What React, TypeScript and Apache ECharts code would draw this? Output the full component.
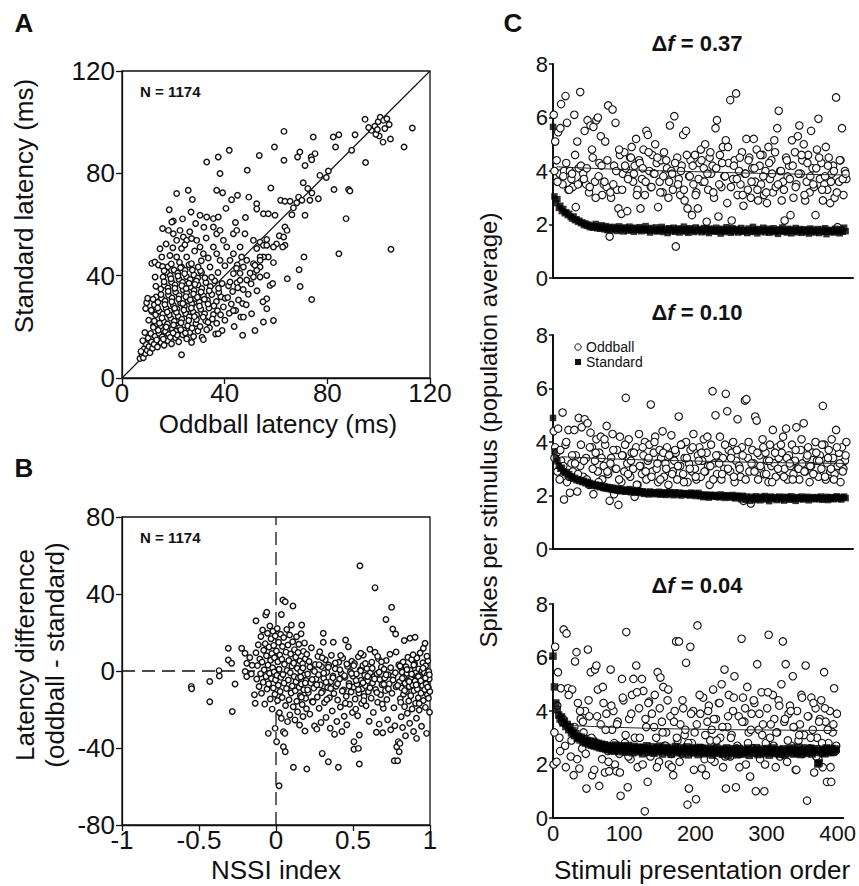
import React, { useEffect, useRef } from "react";
import * as echarts from "echarts";

const FONT = '"Liberation Sans", Arial, Helvetica, sans-serif';
const INK = "#111111";

// ---------------- Panel A : oddball latency (x) vs standard latency (y), ms ----------------
const aTail: number[][] = [
  [7, 7.6], [7.8, 9.1], [8.3, 7.9], [8.6, 11.4], [9.1, 9.6], [9.4, 13.2], [9.8, 10.8], [10.2, 15.6],
  [10.5, 12.3], [10.9, 9.9], [11.2, 17.4], [11.5, 14.1], [11.9, 11.6], [12.3, 20.3], [9.2, 27.2], [9.6, 29.4],
  [10, 31.2], [8.9, 17.8], [10.4, 22.6], [11.7, 25.9], [12.6, 28.6], [13.3, 31.7], [8.1, 14.6], [7.4, 10.4],
];
const aCore: number[][] = [
  [12.5, 13.2], [13.8, 12.1], [15.2, 13.9], [16.4, 12.8], [17.9, 14.6], [19.3, 13.4], [20.8, 15.7], [22.1, 14.2],
  [23.6, 16.9], [25.2, 15.3], [26.4, 17.8], [27.9, 16.2], [29.6, 18.4], [31.2, 15.9],
  [12.9, 16.3], [14.4, 17.5], [15.7, 16.1], [16.9, 18.2], [18.2, 17.0], [19.6, 19.1], [21.0, 18.3], [22.5, 19.8],
  [24.1, 18.7], [25.6, 20.4], [27.3, 19.5], [28.8, 21.3], [30.4, 20.1], [32.6, 22.4], [34.1, 19.6],
  [12.2, 19.8], [13.6, 21.2], [15.0, 20.3], [16.3, 22.0], [17.7, 21.1], [19.0, 23.4], [20.4, 22.2], [21.9, 24.1],
  [23.3, 23.0], [24.8, 25.2], [26.2, 23.9], [27.7, 25.8], [29.1, 24.6], [30.7, 26.9], [32.2, 25.1], [33.9, 27.4],
  [35.6, 24.8], [37.2, 26.3],
  [13.1, 24.7], [14.5, 26.1], [15.9, 25.0], [17.2, 27.3], [18.6, 26.2], [20.0, 28.4], [21.4, 27.1], [22.8, 29.3],
  [24.3, 28.0], [25.7, 30.2], [27.2, 29.0], [28.6, 31.1], [30.1, 29.7], [31.7, 32.0], [33.3, 30.4], [35.0, 32.6],
  [36.8, 29.9], [38.5, 31.8],
  [14.0, 29.6], [15.4, 31.2], [16.8, 30.1], [18.1, 32.4], [19.5, 31.3], [20.9, 33.6], [22.3, 32.2], [23.8, 34.5],
  [25.2, 33.3], [26.7, 35.6], [28.1, 34.2], [29.6, 36.4], [31.1, 35.0], [32.7, 37.3], [34.4, 35.8], [36.1, 38.0],
  [15.1, 34.8], [16.5, 36.3], [17.9, 35.2], [19.3, 37.5], [20.7, 36.4], [22.2, 38.6], [23.6, 37.4], [25.1, 39.7],
  [26.6, 38.5], [28.0, 40.3], [29.5, 39.1], [31.0, 41.2],
  [16.0, 39.5], [17.4, 41.3], [18.8, 40.1], [20.3, 42.2], [21.7, 41.0], [23.2, 43.4], [24.6, 42.1], [26.1, 44.3],
  [33.5, 21.8], [35.2, 23.1], [36.9, 21.4], [38.4, 24.7], [40.1, 22.6], [41.8, 25.3], [39.5, 27.8], [42.6, 28.9],
  [44.3, 26.4], [37.7, 33.5], [40.2, 31.2], [43.1, 33.8], [45.4, 30.5], [41.5, 36.1], [44.8, 37.2], [47.2, 34.6],
  [46.0, 40.9], [48.6, 38.3], [43.7, 20.1], [46.3, 23.8], [39.0, 18.6], [36.5, 17.2], [33.0, 18.9],
];
const aCoreFill: number[][] = [
  [13.5, 14.9], [16.1, 15.2], [18.8, 15.9], [21.5, 16.8], [24.7, 17.6], [27.1, 13.9], [14.1, 18.7], [17.2, 19.9],
  [20.1, 20.7], [23.0, 21.6], [26.0, 22.5], [29.0, 22.9], [12.6, 22.3], [15.6, 23.5], [18.4, 24.6], [21.2, 25.7],
  [24.1, 26.6], [27.0, 27.4], [30.2, 28.1], [33.5, 28.9], [13.9, 27.4], [16.7, 28.7], [19.4, 29.8], [22.1, 30.9],
  [24.9, 31.8], [27.9, 32.8], [30.8, 33.6], [34.0, 34.1], [15.2, 32.6], [18.0, 33.9], [20.6, 35.1], [23.3, 36.1],
  [26.1, 37.0], [29.0, 37.9], [32.3, 39.2], [16.4, 37.6], [19.1, 38.8], [21.8, 39.9], [24.4, 40.8], [27.4, 42.2],
  [17.9, 43.5], [22.4, 45.2], [14.6, 21.4], [17.6, 25.8], [20.5, 27.3], [23.7, 29.1], [26.6, 30.6], [29.4, 31.6],
  [32.1, 30.8], [25.0, 35.0], [28.4, 36.6], [19.9, 17.6], [22.9, 18.9], [28.2, 24.0], [31.6, 23.8], [35.8, 28.2],
  [37.6, 35.1], [34.9, 39.4], [30.6, 41.9], [13.2, 35.9], [12.1, 30.8], [11.4, 26.5],
];
const aUpperLeft: number[][] = [
  [11.6, 44.8], [12.8, 45.3], [14.2, 44.2], [15.8, 43.6], [12.9, 39.5], [14.8, 50.5], [15.5, 47.3], [18.1, 57.7],
  [15.8, 58.4], [20, 56.4], [21.3, 53.8], [22.6, 57.7], [23.9, 55.1], [25.2, 53.8], [27.1, 54.5], [29.1, 53.8],
  [30.4, 51.2], [25.2, 47.3], [27.1, 44.7], [21.3, 47.3], [18.7, 47.9], [23.2, 50.6], [31.7, 48.6], [29.7, 43.4],
  [35.6, 51.2], [36.9, 56.4], [35.6, 59], [38.2, 57.7], [39.5, 53.8], [40.8, 51.2], [43.4, 56.4], [44.7, 57.7],
  [46, 51.2], [47.9, 56.4], [34.3, 43.4], [38.2, 46], [36.9, 48.6], [42.1, 46], [43.4, 48.6], [46.6, 47.3],
  [48.6, 46], [17.2, 52.4], [19.8, 50.9], [24.5, 52.1], [28.3, 49.6], [32.8, 54.7], [33.6, 46.9], [26.4, 57.2],
  [19.2, 44.6], [22.8, 43.1], [16.4, 41.9], [30.9, 45.8], [40.1, 43.9], [37.4, 41.2], [44.9, 44.2],
];
const aMiddle: number[][] = [
  [51.2, 53.8], [53.8, 53.1], [55.1, 51.9], [56.4, 51.9], [52.5, 50.6], [57, 47.3], [55.1, 47.3], [53.8, 43.4],
  [51.2, 44.7], [43.4, 40.8], [46, 38.2], [51.2, 40.8], [47.3, 43.4], [42.1, 37.5], [39, 36.9], [53.8, 47.3],
  [53.8, 46], [52.5, 42.1], [53.8, 39.5], [51.2, 39.5], [49.9, 41], [51.8, 44.1], [59, 45.1], [56.4, 40.1],
  [57.7, 36.2], [58.7, 36.9], [56.4, 31], [56.4, 27.1], [59, 22.5], [55.1, 21.9], [51.8, 18.6], [47, 16.7],
  [50.5, 25.1], [47.3, 23.8], [47, 29.1], [43.4, 26.4], [49.2, 32.7], [52.6, 34.1], [45.1, 35.3], [48.4, 28.6],
  [41.2, 31.5], [54.9, 29.8], [50.3, 36.8], [44.6, 42.9], [60.2, 52.4], [61.3, 55.6], [23.2, 9.1], [31.7, 15],
  [37.5, 17.3],
];
const aUpper: number[][] = [
  [25.8, 73.4], [21.3, 72.1], [27.4, 69.8], [18.4, 65.8], [20, 61.4], [19.4, 61], [30.4, 63.6], [33, 62.9],
  [35.6, 62.3], [37.5, 62.9], [26.9, 64.9], [36.9, 73.4], [39.2, 72.4], [45, 71.4], [42.7, 69.7], [49.4, 70.7],
  [52.5, 68.1], [52.5, 66.1], [55.1, 64.2], [57, 64.2], [59.6, 63.6], [58, 74.3], [38.2, 79.9], [33, 84.4],
  [37.5, 86.4], [41.8, 89], [48.8, 81.2], [53.5, 87], [59.4, 90.3], [63.1, 96.4], [63.1, 85.1], [40.5, 66.3],
  [44.2, 60.8], [48.1, 62.7], [28.7, 60.4], [23.6, 62.2], [31.9, 58.9],
];
const aRight: number[][] = [
  [61.8, 69.5], [63.5, 69.1], [65.5, 69.1], [68.1, 68.5], [66.8, 66.5], [68.8, 70.7], [70.1, 69.5], [71.3, 63.6],
  [73.2, 69.5], [76.5, 70.1], [74, 72.3], [63.5, 59], [64.3, 57.7], [63, 55.1], [63.5, 51.9], [62.6, 51.2],
  [59, 51.2], [56.4, 54.1], [64.4, 38.8], [69, 42.3], [69.4, 35.8], [73.9, 30.7], [70.9, 47.3], [69.3, 88.3],
  [68.4, 86.4], [71.3, 83.1], [75.2, 87.7], [73.7, 86.4], [73.9, 85.3], [74.5, 94.2], [77.1, 79.2], [80.4, 80.9],
  [82.6, 73.7], [88.3, 73.7], [88.8, 73.1], [87.3, 62.3], [84.5, 48.6], [82.3, 94.2], [84.5, 95.1], [83.2, 90.3],
  [89.5, 89], [90.8, 95.1], [94.7, 101.1], [94.9, 84.2], [104.8, 50.3], [109.9, 90.3], [113.1, 97.7], [97.2, 96.8],
  [98.5, 98.4], [99.8, 100.2], [100.6, 101.9], [101.9, 100.7], [103.2, 101.3], [104.1, 99.1], [102.4, 97.5],
  [100.2, 94.6], [101.7, 92.2], [104.6, 93.4], [98.9, 95.3], [99.5, 97.1], [96.1, 97.9], [70.6, 76.3],
  [72.4, 74.1], [79.6, 78.4], [66.2, 63.8],
];
const aIdentity: number[][] = [[0, 0], [120, 120]];

// ---------------- Panel B : NSSI index (x) vs latency difference (y) ----------------
const bLeft: number[][] = [
  [-0.55, -8], [-0.548, -9.2], [-0.43, -5.5], [-0.43, -16], [-0.37, 0.2], [-0.368, -2.6], [-0.31, 11.8],
  [-0.31, 5.7], [-0.288, 4], [-0.284, -21], [-0.266, -6.8], [-0.223, 11.8], [-0.201, 9.2], [-0.19, 4],
  [-0.2, -0.3], [-0.19, -2.9], [-0.17, 7], [-0.16, -1.5], [-0.13, 26.1], [-0.155, 3],
];
const bNearZero: number[][] = [
  [-0.14, -12.3], [-0.135, -16.8], [-0.13, 9.5], [-0.125, -4.2], [-0.12, 2.8], [-0.115, 13.6], [-0.11, -8.1],
  [-0.105, 6.2], [-0.1, -1.4], [-0.098, 17.9], [-0.094, -11.6], [-0.09, 4.7], [-0.087, 21.3], [-0.083, -5.9],
  [-0.08, 10.8], [-0.077, 0.6], [-0.073, -17.2], [-0.07, 14.2], [-0.067, 29.1], [-0.065, -2.8], [-0.062, 7.9],
  [-0.06, 30.5], [-0.058, -9.4], [-0.055, 19.6], [-0.052, 3.1], [-0.05, -32.4], [-0.048, -6.7], [-0.045, 12.5],
  [-0.042, -1.2], [-0.04, 23.4], [-0.037, -14.5], [-0.035, 5.6], [-0.032, 16.8], [-0.03, -3.9], [-0.027, 9.1],
  [-0.025, -19.8], [-0.022, 1.7], [-0.02, 20.6], [-0.017, -8.8], [-0.015, 13.3], [-0.012, -0.5], [-0.01, 6.9],
  [-0.007, -12.1], [-0.005, 18.2], [-0.003, -4.6], [-0.006, -29.8],
  [0.004, -36.7], [0.003, 10.4], [0.006, -2.2], [0.008, 22.1], [0.01, -15.3], [0.012, 4.8], [0.015, -7.4],
  [0.017, 14.9], [0.02, -59.6], [0.02, 0.9], [0.022, -21.7], [0.025, 8.3], [0.027, -10.6], [0.03, 19.1],
  [0.032, -3.3], [0.035, 29.4], [0.035, -24.6], [0.038, 6.1], [0.04, -13.8], [0.042, 12.7], [0.045, 36.9],
  [0.045, -1.8], [0.048, -31.5], [0.048, -39.3], [0.05, 17.4], [0.052, -6.3], [0.055, 3.5], [0.058, -32.4],
  [0.06, 36], [0.06, -41.9], [0.062, -17.9], [0.065, 9.8], [0.068, -9.1], [0.07, 21.6], [0.072, 0.3],
  [0.075, -26.3], [0.078, 13.5], [0.08, -4.7], [0.083, 5.4], [0.085, -14.9], [0.088, 18.7], [0.09, -22.8],
  [0.093, -0.9], [0.095, 8.8], [0.098, -11.4], [0.1, 23.9], [0.103, 2.6], [0.105, -7.8], [0.108, 15.2],
  [0.11, 33.8], [0.112, -18.6], [0.113, -50], [0.115, 4.1], [0.118, -2.9], [0.12, 11.1], [0.123, -25.4],
  [0.125, -10.3], [0.128, 7.2], [0.13, -5.6], [0.133, 17.8], [0.135, -15.7], [0.138, 1.4], [0.14, -21.2],
  [0.143, 9.6], [0.145, -3.5], [0.148, 13.9], [0.15, -8.4], [0.153, -28.1], [0.155, 5.2], [0.158, -12.9],
  [0.16, -0.3], [0.163, 19.4], [0.165, -6.8], [0.167, 23.9], [0.17, -17.4], [0.173, 3.8], [0.175, -23.6],
  [0.178, 10.2], [0.18, -9.7], [0.183, -2.1], [0.185, 14.6], [0.188, -31.2], [0.19, 6.4], [0.193, -14.2],
  [0.195, -4.9], [0.198, -19.6], [0.2, -50.9], [0.2, 8.7],
];
const bMid: number[][] = [
  [0.205, -1.6], [0.21, -11.2], [0.215, 4.9], [0.22, -22.4], [0.225, -6.3], [0.23, 12.1], [0.235, -15.8],
  [0.24, 0.8], [0.245, -8.9], [0.25, -28.6], [0.255, 3.4], [0.26, -4.1], [0.265, -30.2], [0.268, -13.5],
  [0.272, 7.6], [0.276, -1.9], [0.28, -19.3], [0.284, 10], [0.288, -7.2], [0.292, -26.7], [0.296, 2.3],
  [0.3, -42.8], [0.302, -10.5], [0.307, 19.6], [0.307, 14.9], [0.31, -3.8], [0.315, -16.4], [0.32, 5.8],
  [0.325, -24.1], [0.33, -0.7], [0.335, -8.6], [0.34, -47.1], [0.342, 3.1], [0.347, -13.9], [0.352, -29.7],
  [0.356, -5.4], [0.36, 8.2], [0.365, -20.8], [0.37, -2.6], [0.372, 14.9], [0.376, -11.7], [0.38, -32.8],
  [0.385, 1.2], [0.39, -7.9], [0.395, -26.2], [0.4, -15.1], [0.405, -50], [0.408, 4.5], [0.413, -4.2],
  [0.418, -18.7], [0.423, -1], [0.428, -31.4], [0.433, 6.7], [0.438, -9.8], [0.443, -23.5], [0.448, -3.2],
  [0.452, 16.1], [0.456, -13.1], [0.46, -27.9], [0.465, 2.4], [0.47, 12.6], [0.474, -6.5], [0.478, -17.3],
  [0.483, -0.4], [0.488, -10.9], [0.492, 5.1], [0.496, -21.6],
  [0.5, -2.7], [0.504, -8.3], [0.506, -40.7], [0.506, -36.7], [0.51, 3.9], [0.514, -14.6], [0.518, -19.8],
  [0.522, -1.5], [0.526, -6.9], [0.53, -23.2], [0.535, 7.4], [0.535, -40.2], [0.538, -11.4], [0.541, -48.3],
  [0.541, -33.2], [0.545, 54.7], [0.548, 0.6], [0.552, -4.8], [0.556, -16.9], [0.56, -9.2], [0.564, 2.9],
  [0.567, 8.3], [0.572, -13.2], [0.576, -2.2], [0.58, -7.6], [0.585, -18.1], [0.59, 1.3], [0.595, -5.1],
  [0.6, -10.8], [0.605, -26.1], [0.61, 11.3], [0.613, -0.9], [0.618, -14.1], [0.622, 4.6], [0.627, -6.2],
  [0.632, -21.5], [0.637, -2.9], [0.643, 43.3], [0.643, 9.7], [0.647, -9.6], [0.652, -31.8], [0.656, -1.4],
  [0.66, -16.2], [0.665, 6.3], [0.67, -27.6], [0.674, -4.4], [0.679, -12.3], [0.684, 2], [0.688, -7.1],
  [0.693, -32.1], [0.697, -19.4], [0.702, 0.9], [0.706, -3.6], [0.711, -10.2], [0.714, 26.8], [0.716, 5.5],
  [0.72, -14.8], [0.725, -25.3], [0.73, -1.9], [0.735, -6.7], [0.74, 8.7], [0.745, -30.5], [0.751, 33.1],
  [0.753, -11.6], [0.758, 21.8], [0.762, -2.5], [0.766, -19.1], [0.768, -46.6], [0.772, -28.4], [0.777, 19.2],
  [0.78, -8.2], [0.784, -39.3], [0.79, -46.6], [0.794, -36.7], [0.797, 3.2],
];
const bRight: number[][] = [
  [0.8, -41.9], [0.802, -5.6], [0.805, -37.6], [0.807, -14.4], [0.81, 1.8], [0.813, -23.8], [0.816, -8.9],
  [0.819, -0.6], [0.822, -29.4], [0.825, 4.7], [0.828, -12.1], [0.831, -3.3], [0.833, 15.8], [0.835, -18.5],
  [0.838, -6.4], [0.841, -33.6], [0.844, 2.2], [0.847, -10.7], [0.85, -1.2], [0.853, -21.9], [0.856, 7.1],
  [0.859, -4.9], [0.862, -15.6], [0.865, -8.1], [0.868, -27.2], [0.87, 17], [0.872, 0.4], [0.875, -12.8],
  [0.878, -3.9], [0.881, 5.9], [0.884, -19.7], [0.887, -7.3], [0.89, -1.8], [0.893, -31.4], [0.896, -10.2],
  [0.9, 3.6], [0.903, 17.5], [0.903, -5.2], [0.906, -16.8], [0.909, -0.9], [0.912, -24.5], [0.913, -35],
  [0.915, 6.8], [0.918, -9.4], [0.921, -2.6], [0.924, -13.9], [0.927, 1.1], [0.93, -20.3], [0.933, -6.1],
  [0.936, 9.3], [0.939, -3.2], [0.942, -11.5], [0.945, -28.7], [0.948, 0.2], [0.951, -7.7], [0.954, 4.3],
  [0.957, 11.8], [0.957, -15.3], [0.96, -4.4], [0.963, -1], [0.966, -9.6], [0.968, 14.4], [0.97, -18.9],
  [0.972, 2.7], [0.975, -6.8], [0.978, -32.4], [0.98, -2.1], [0.983, -12.4], [0.986, 5.3], [0.989, -8.5],
  [0.992, -0.3], [0.995, -4.1], [0.997, -21.4], [0.999, -10.6],
];
const bBand: number[][] = [
  [0.16, -3.1], [0.175, 1.6], [0.19, -6.2], [0.205, -9.8], [0.22, 2.1], [0.235, -4.4], [0.25, -0.2],
  [0.265, -7.1], [0.28, 3.3], [0.295, -11.3], [0.31, -1.1], [0.325, -5.8], [0.34, 1.9], [0.355, -9.1],
  [0.37, -3.5], [0.385, 4.2], [0.4, -6.6], [0.415, 0.7], [0.43, -10.4], [0.445, -2.4], [0.46, 3.6],
  [0.475, -7.8], [0.49, -1.3], [0.505, 2.8], [0.52, -4.9], [0.535, -9.6], [0.55, 0.1], [0.565, -6.1],
  [0.58, 3.9], [0.595, -2.8], [0.61, -8.7], [0.625, 1.4], [0.64, -4.1], [0.655, -11.2], [0.67, -0.6],
  [0.685, 4.8], [0.7, -6.9], [0.715, -2], [0.73, -9.3], [0.745, 1.7], [0.76, -4.7], [0.775, -0.9],
  [0.79, -7.5], [0.805, 2.6], [0.82, -3.8], [0.835, -10.1], [0.85, 0.8], [0.865, -5.5], [0.88, -1.6],
  [0.895, 3.1], [0.91, -7.2], [0.925, -2.9], [0.94, -5.1], [0.955, 1.5], [0.97, -3.6], [0.985, -8.3],
  [0.996, -1.9], [0.165, -13.6], [0.24, -16.1], [0.33, -14.8], [0.45, -16.7], [0.57, -15.4], [0.69, -17.2],
  [0.81, -16.3], [0.93, -16.9], [0.99, -14.2], [0.3, 6.9], [0.42, 8.1], [0.55, 9.2], [0.66, 7.6],
  [0.78, 9.9], [0.89, 8.4], [0.98, 7.7],
];
const bZeroVertical: number[][] = [[0, -80], [0, 80]];
const bZeroHorizontal: number[][] = [[-1, 0], [0, 0]];

// ---------------- Panel C : spikes per stimulus vs presentation order ----------------
const cTitles = ["0.37", "0.10", "0.04"];
// oddball responses at odd presentation indices (1, 3, 5 ... 399)
const oddTop = [
  6.1, 5.1, 4.4, 5.45, 3.9, 6.5, 3.5, 4.0, 6.8, 5.8,
  3.3, 4.0, 3.7, 3.4, 6.1, 2.65, 5.1, 4.1, 6.95, 3.6,
  3.9, 5.5, 3.5, 5.9, 3.2, 5.7, 4.8, 5.65, 3.6, 5.9,
  6.0, 4.3, 5.3, 3.1, 3.5, 5.1, 3.4, 6.45, 1.55, 3.0,
  6.3, 4.2, 5.8, 3.3, 2.6, 4.6, 2.4, 3.9, 4.7, 4.1,
  2.5, 3.8, 4.5, 4.9, 3.6, 4.2, 5.2, 3.3, 4.4, 2.6,
  3.7, 4.8, 3.1, 5.5, 5.35, 4.0, 3.4, 4.6, 3.9, 5.0,
  4.3, 2.65, 3.6, 4.4, 3.2, 4.7, 3.9, 4.1, 3.0, 5.7,
  4.0, 3.3, 6.05, 1.18, 4.5, 3.7, 3.1, 4.2, 5.35, 2.9,
  5.5, 2.6, 3.8, 4.4, 2.35, 3.5, 4.6, 3.2, 2.6, 4.3,
  4.8, 3.6, 4.1, 5.0, 2.1, 3.3, 4.5, 3.9, 4.2, 3.0,
  5.6, 5.9, 2.3, 4.6, 3.4, 4.9, 3.8, 5.15, 2.8, 4.3,
  6.65, 2.15, 3.7, 4.4, 6.9, 3.1, 4.0, 3.5, 4.7, 2.7,
  3.9, 5.2, 3.3, 4.5, 3.0, 4.1, 5.2, 3.6, 4.8, 2.9,
  4.2, 3.5, 4.6, 3.1, 4.0, 2.8, 4.9, 3.7, 4.4, 3.2,
  5.15, 3.4, 5.6, 6.25, 4.0, 2.9, 3.6, 2.15, 4.5, 3.8,
  4.2, 2.35, 5.15, 3.0, 4.7, 3.5, 5.3, 5.7, 3.9, 4.4,
  5.0, 2.9, 3.6, 4.6, 3.2, 5.5, 4.1, 3.4, 2.35, 4.8,
  5.95, 3.7, 4.3, 2.9, 3.5, 4.9, 3.3, 4.5, 2.8, 3.9,
  4.2, 3.0, 6.75, 1.9, 3.6, 4.4, 5.6, 3.1, 4.0, 3.7,
];
// further oddball responses at indices 2, 6, 10 ... 398
const oddTopB = [
  4.0, 3.6, 5.6, 3.8, 4.3, 3.3, 3.9, 4.6, 3.5, 4.2,
  3.7, 4.1, 3.4, 4.5, 3.0, 3.8, 4.2, 3.6, 4.4, 3.2,
  3.5, 4.0, 4.8, 3.3, 4.2, 3.7, 4.5, 3.9, 3.1, 4.3,
  4.1, 3.6, 4.7, 3.4, 3.9, 4.5, 3.2, 3.8, 4.4, 3.6,
  3.9, 4.3, 3.5, 4.0, 3.3, 4.6, 3.8, 4.2, 3.1, 3.7,
  4.4, 3.6, 3.9, 4.7, 3.2, 4.1, 3.5, 4.3, 3.8, 4.9,
  3.4, 4.2, 3.7, 4.5, 3.1, 3.9, 4.4, 3.6, 4.1, 3.3,
  4.6, 3.8, 3.2, 4.3, 3.9, 4.7, 3.5, 4.0, 3.3, 4.4,
  3.7, 4.2, 3.4, 3.9, 4.6, 3.1, 4.3, 3.8, 3.5, 4.1,
  4.5, 3.3, 3.8, 4.2, 3.6, 4.0, 3.2, 4.4, 3.7, 3.9,
];
const oddMid = [
  4.4, 3.8, 3.6, 4.5, 2.6, 3.3, 5.1, 1.85, 3.9, 2.5,
  4.45, 2.1, 3.2, 2.9, 4.45, 3.5, 2.15, 4.9, 3.1, 4.55,
  2.7, 4.85, 3.4, 4.7, 2.4, 4.35, 3.8, 2.05, 3.3, 4.1,
  2.9, 3.6, 4.2, 2.6, 3.1, 3.9, 4.6, 2.8, 1.8, 3.4,
  4.3, 2.05, 3.0, 3.7, 1.65, 4.2, 2.5, 3.5, 2.9, 5.65,
  3.2, 4.1, 2.7, 3.6, 3.0, 1.95, 3.8, 2.4, 4.3, 3.1,
  2.8, 3.5, 4.0, 2.6, 3.3, 3.9, 5.4, 2.9, 3.6, 4.2,
  3.0, 2.5, 3.7, 3.4, 4.4, 2.7, 3.2, 3.8, 2.4, 3.5,
  4.25, 2.9, 3.3, 3.6, 2.6, 4.95, 3.1, 3.9, 2.8, 3.4,
  4.0, 2.5, 3.2, 3.7, 2.9, 4.3, 3.0, 2.6, 3.5, 3.8,
  2.7, 3.3, 4.1, 2.9, 3.6, 3.1, 2.4, 3.9, 5.9, 3.2,
  5.0, 2.8, 3.5, 4.2, 2.6, 3.4, 3.0, 5.8, 5.15, 3.7,
  2.9, 3.6, 4.0, 2.5, 3.3, 4.85, 3.1, 2.7, 3.8, 1.8,
  5.55, 5.6, 3.4, 2.9, 1.7, 3.7, 3.2, 4.95, 4.8, 2.6,
  3.5, 3.0, 4.1, 2.8, 3.6, 3.3, 2.5, 3.9, 3.1, 4.45,
  3.2, 2.7, 3.8, 3.4, 2.9, 3.6, 4.2, 3.0, 4.5, 2.6,
  3.5, 3.1, 3.9, 2.8, 3.3, 4.55, 3.0, 2.6, 3.7, 3.2,
  4.7, 2.9, 3.4, 3.8, 2.5, 3.1, 3.6, 2.8, 4.0, 3.3,
  2.7, 3.5, 3.0, 5.35, 3.9, 2.6, 3.2, 3.7, 2.9, 4.1,
  3.4, 2.8, 4.45, 3.1, 3.6, 2.5, 3.8, 3.0, 3.3, 4.0,
];
const oddMidB = [
  3.4, 2.9, 3.7, 3.1, 4.0, 2.7, 3.5, 3.2, 2.8, 3.9,
  3.3, 2.6, 3.8, 3.0, 3.6, 2.5, 3.4, 4.1, 2.9, 3.2,
  3.7, 3.0, 2.6, 3.5, 3.9, 2.8, 3.3, 3.6, 2.4, 3.1,
  3.8, 2.9, 3.4, 2.7, 4.0, 3.2, 2.6, 3.6, 3.0, 3.5,
  2.8, 3.7, 3.1, 3.9, 2.5, 3.4, 3.0, 3.8, 2.7, 3.3,
  3.6, 2.9, 4.2, 3.1, 2.6, 3.5, 3.2, 2.8, 3.9, 3.0,
  3.4, 2.7, 3.7, 3.0, 3.5, 2.6, 4.0, 3.2, 2.9, 3.6,
  3.1, 3.8, 2.8, 3.3, 2.5, 3.6, 3.0, 3.9, 2.7, 3.4,
  3.2, 2.6, 3.7, 3.0, 4.1, 2.9, 3.5, 3.1, 2.8, 3.6,
  3.3, 3.9, 2.7, 3.4, 3.0, 2.6, 3.8, 3.2, 2.9, 3.5,
];
const oddBot = [
  2.0, 6.4, 2.1, 5.45, 3.0, 4.85, 3.6, 7.05, 2.7, 6.9,
  4.85, 3.4, 2.3, 4.8, 1.6, 5.85, 6.2, 4.3, 1.85, 3.7,
  2.6, 3.2, 4.0, 1.1, 6.3, 3.8, 5.45, 1.6, 2.9, 5.55,
  5.7, 4.8, 1.2, 3.5, 2.2, 4.3, 1.7, 3.9, 2.5, 1.75,
  5.55, 3.3, 4.0, 2.0, 1.75, 3.6, 2.4, 0.83, 5.2, 4.4,
  2.8, 6.95, 1.15, 3.7, 2.2, 4.6, 5.2, 3.0, 5.7, 1.9,
  4.1, 2.6, 5.2, 4.75, 0.25, 3.4, 1.35, 4.35, 2.3, 3.9,
  2.5, 4.6, 3.0, 5.45, 2.1, 5.25, 3.6, 4.9, 2.7, 3.2,
  4.4, 2.0, 3.8, 1.9, 1.6, 4.0, 6.6, 2.9, 6.6, 3.5,
  2.4, 4.1, 3.1, 5.8, 0.5, 1.1, 6.4, 2.8, 4.0, 3.2,
  0.7, 7.2, 2.6, 3.9, 1.85, 4.5, 2.2, 1.6, 3.6, 4.2,
  2.9, 3.3, 4.8, 2.1, 3.7, 2.5, 4.3, 3.0, 5.0, 1.9,
  5.55, 1.1, 3.4, 4.6, 2.3, 3.1, 4.0, 5.3, 1.15, 2.7,
  3.8, 2.4, 6.7, 4.5, 3.6, 2.0, 4.9, 3.2, 1.55, 3.9,
  2.6, 4.3, 1.0, 5.75, 3.3, 2.2, 4.7, 3.5, 1.0, 2.8,
  4.1, 6.85, 3.0, 2.5, 4.6, 3.7, 1.9, 3.2, 4.4, 2.3,
  5.0, 6.6, 3.6, 5.75, 2.1, 3.9, 4.2, 2.7, 5.3, 3.4,
  1.8, 4.0, 2.9, 3.5, 4.6, 2.4, 3.1, 5.7, 0.65, 3.8,
  2.6, 4.5, 3.3, 1.7, 4.1, 3.0, 2.2, 3.7, 4.4, 1.9,
  5.45, 3.6, 1.35, 2.8, 4.0, 1.35, 3.2, 4.85, 2.5, 3.9,
];
const oddBotB = [
  3.2, 4.2, 2.5, 3.7, 1.9, 4.6, 2.9, 3.4, 2.2, 4.0,
  3.6, 2.4, 4.4, 3.0, 1.8, 3.8, 2.7, 4.9, 3.3, 2.1,
  4.2, 2.8, 3.5, 1.7, 4.5, 3.1, 2.3, 3.9, 2.6, 4.7,
  3.0, 2.0, 3.7, 4.3, 2.5, 3.4, 1.9, 4.1, 3.2, 2.7,
  4.8, 2.4, 3.6, 3.0, 2.1, 4.4, 3.3, 2.8, 3.9, 1.8,
  3.5, 4.6, 2.6, 3.1, 4.0, 2.2, 3.7, 2.9, 4.3, 3.4,
  2.3, 3.8, 3.0, 4.5, 2.6, 1.9, 3.6, 4.1, 2.8, 3.3,
  4.4, 2.5, 3.9, 3.1, 2.0, 4.7, 3.5, 2.7, 3.2, 4.2,
  2.4, 3.7, 2.9, 4.0, 3.4, 1.8, 3.1, 4.5, 2.6, 3.8,
  3.0, 4.3, 2.3, 3.6, 2.8, 4.1, 3.3, 1.9, 3.5, 2.7,
];
// standard responses at even presentation indices (0, 2, 4 ... 398)
const stdTop = [
  5.65, 3.05, 2.80, 2.95, 2.62, 2.70, 2.50, 2.58, 2.42, 2.46,
  2.35, 2.40, 2.28, 2.22, 2.30, 2.16, 2.20, 2.10, 2.14, 2.05,
  2.08, 1.98, 2.04, 1.95, 2.00, 1.90, 1.96, 1.88, 1.93, 2.02,
  1.86, 1.92, 1.84, 1.97, 1.88, 1.82, 1.94, 1.79, 1.90, 1.85,
  1.78, 1.91, 1.83, 1.87, 1.76, 1.93, 1.81, 1.86, 1.74, 1.89,
  1.84, 1.77, 1.92, 1.80, 1.86, 1.73, 1.88, 1.82, 1.79, 1.90,
  1.75, 1.85, 1.81, 1.94, 1.77, 1.83, 1.70, 1.87, 1.80, 1.76,
  1.89, 1.74, 1.82, 1.78, 1.91, 1.72, 1.84, 1.79, 1.68, 1.86,
  1.81, 1.75, 1.88, 1.73, 1.80, 1.85, 1.70, 1.83, 1.77, 1.92,
  1.74, 1.82, 1.69, 1.86, 1.78, 1.81, 1.72, 1.89, 1.76, 1.80,
  1.84, 1.71, 1.79, 1.87, 1.74, 1.82, 1.68, 1.85, 1.77, 1.80,
  1.73, 1.88, 1.75, 1.81, 1.66, 1.84, 1.78, 1.72, 1.90, 1.76,
  1.82, 1.69, 1.86, 1.74, 1.79, 1.83, 1.70, 1.77, 1.87, 1.73,
  1.80, 1.76, 1.68, 1.85, 1.78, 1.72, 1.91, 1.75, 1.81, 1.67,
  1.83, 1.74, 1.79, 1.88, 1.71, 1.77, 1.84, 1.69, 1.80, 1.75,
  1.86, 1.72, 1.78, 1.65, 1.82, 1.76, 1.89, 1.73, 1.79, 1.70,
  1.84, 1.77, 1.67, 1.81, 1.74, 1.87, 1.71, 1.78, 1.83, 1.69,
  1.76, 1.82, 1.72, 1.79, 1.66, 1.85, 1.74, 1.80, 1.70, 1.77,
  1.83, 1.68, 1.75, 1.81, 1.73, 1.86, 1.64, 1.78, 1.72, 1.80,
  1.76, 1.70, 1.84, 1.74, 1.79, 1.67, 1.82, 1.73, 1.88, 1.75,
];
const stdMid = [
  4.90, 3.65, 3.40, 3.28, 3.12, 3.00, 3.04, 2.90, 2.84, 2.88,
  2.76, 2.80, 2.68, 2.72, 2.62, 2.66, 2.57, 2.61, 2.54, 2.58,
  2.50, 2.55, 2.46, 2.51, 2.42, 2.47, 2.39, 2.44, 2.36, 2.41,
  2.34, 2.39, 2.31, 2.37, 2.28, 2.35, 2.26, 2.32, 2.24, 2.30,
  2.22, 2.29, 2.20, 2.26, 2.18, 2.25, 2.16, 2.23, 2.19, 2.14,
  2.21, 2.15, 2.24, 2.12, 2.19, 2.16, 2.10, 2.20, 2.13, 2.17,
  2.09, 2.16, 2.06, 2.13, 2.10, 2.04, 2.15, 2.08, 2.12, 2.05,
  2.11, 2.07, 2.14, 2.03, 2.10, 2.06, 2.12, 2.02, 2.09, 2.13,
  2.05, 2.10, 2.01, 2.12, 2.07, 2.04, 2.11, 2.00, 2.08, 2.06,
  2.09, 2.02, 2.06, 2.00, 2.11, 2.04, 2.08, 1.98, 2.05, 2.10,
  1.98, 2.02, 1.94, 2.04, 1.97, 2.01, 1.92, 2.03, 1.99, 1.96,
  2.02, 1.95, 2.00, 1.93, 2.04, 1.97, 1.99, 1.91, 2.01, 1.96,
  1.98, 1.92, 2.02, 1.95, 1.89, 2.00, 1.94, 1.97, 1.86, 1.99,
  1.93, 1.84, 1.96, 1.88, 1.80, 1.95, 1.90, 1.83, 1.97, 1.87,
  1.92, 1.82, 1.95, 1.89, 1.98, 1.85, 1.93, 1.79, 1.96, 1.90,
  1.87, 1.94, 1.83, 1.91, 1.96, 1.86, 1.92, 1.81, 1.95, 1.89,
  1.93, 1.84, 1.97, 1.88, 1.91, 1.80, 1.94, 1.87, 1.90, 1.96,
  1.85, 1.92, 1.89, 1.95, 1.82, 1.91, 1.88, 1.94, 1.86, 1.90,
  1.93, 1.87, 1.96, 1.84, 1.91, 1.89, 1.95, 1.83, 1.92, 1.88,
  1.94, 1.86, 1.91, 1.97, 1.88, 1.93, 1.85, 1.92, 1.96, 1.90,
];
const stdBot = [
  6.05, 4.90, 4.30, 4.05, 3.85, 3.70, 3.78, 3.55, 3.62, 3.42,
  3.50, 3.30, 3.38, 3.18, 3.26, 3.08, 3.15, 2.98, 3.05, 2.92,
  3.02, 2.85, 2.96, 2.80, 2.90, 2.76, 2.88, 2.72, 2.84, 2.69,
  2.82, 2.66, 2.79, 2.62, 2.76, 2.60, 2.74, 2.58, 2.71, 2.55,
  2.69, 2.52, 2.67, 2.50, 2.73, 2.56, 2.64, 2.48, 2.70, 2.53,
  2.66, 2.46, 2.62, 2.71, 2.50, 2.59, 2.44, 2.68, 2.55, 2.61,
  2.47, 2.65, 2.52, 2.40, 2.63, 2.57, 2.70, 2.45, 2.58, 2.50,
  2.66, 2.42, 2.55, 2.62, 2.48, 2.69, 2.53, 2.39, 2.60, 2.51,
  2.64, 2.46, 2.57, 2.38, 2.61, 2.52, 2.67, 2.44, 2.56, 2.49,
  2.63, 2.41, 2.58, 2.50, 2.66, 2.36, 2.55, 2.47, 2.62, 2.43,
  2.59, 2.51, 2.37, 2.64, 2.46, 2.56, 2.40, 2.61, 2.49, 2.53,
  2.45, 2.60, 2.35, 2.57, 2.48, 2.63, 2.42, 2.54, 2.50, 2.38,
  2.58, 2.44, 2.62, 2.33, 2.52, 2.47, 2.59, 2.41, 2.55, 2.36,
  2.50, 2.60, 2.43, 2.56, 2.39, 2.53, 2.46, 2.61, 2.34, 2.51,
  2.57, 2.42, 2.49, 2.63, 2.37, 2.54, 2.45, 2.58, 2.40, 2.52,
  2.47, 2.60, 2.35, 2.55, 2.44, 2.62, 2.41, 2.50, 2.56, 2.38,
  2.53, 2.46, 2.59, 2.36, 2.51, 2.43, 2.57, 2.48, 2.62, 2.39,
  2.55, 2.42, 2.50, 2.64, 2.37, 2.53, 2.46, 2.58, 2.41, 2.56,
  2.48, 2.61, 2.39, 2.54, 2.45, 2.59, 2.02, 2.06, 2.51, 2.43,
  2.57, 2.40, 2.62, 2.48, 2.55, 2.44, 2.60, 2.46, 2.53, 2.58,
];
// thin fitted curves through the oddball responses
const fitTop: number[][] = [[5, 4.16], [100, 4.05], [200, 3.97], [300, 3.9], [400, 3.85]];
const fitMid: number[][] = [[12, 3.45], [100, 3.35], [173, 3.3], [300, 3.23], [400, 3.2]];
const fitBot: number[][] = [[23, 3.46], [100, 3.38], [200, 3.32], [300, 3.29], [400, 3.27]];

// ---------------- layout ----------------
const GRID_A = { left: 122, top: 71, width: 308, height: 307 };
const GRID_B = { left: 122, top: 517, width: 308, height: 308 };
const GRID_C = [
  { left: 553, top: 64, width: 300, height: 214 },
  { left: 553, top: 335, width: 300, height: 214 },
  { left: 553, top: 604, width: 300, height: 214 },
];
const STD_SIZE = [6.5, 6.5, 7.5];

function boxAxis(gridIndex: number, min: number, max: number, interval: number, isY: boolean) {
  return {
    type: "value",
    gridIndex,
    min,
    max,
    interval,
    axisLine: { show: true, onZero: false, lineStyle: { color: INK, width: 1.3 } },
    axisTick: { show: true, length: 6, lineStyle: { color: INK, width: 1.3 } },
    axisLabel: { fontSize: 26, color: INK, fontFamily: FONT, margin: isY ? 7 : 2 },
    splitLine: { show: false },
  };
}

function cXAxis(gridIndex: number, labels: boolean) {
  return {
    type: "value",
    gridIndex,
    min: 0,
    max: 408,
    interval: 100,
    axisLine: { show: true, onZero: false, lineStyle: { color: INK, width: 2 } },
    axisTick: { show: false },
    axisLabel: { show: labels, fontSize: 22, color: INK, fontFamily: FONT, margin: 4, showMaxLabel: false },
    splitLine: { show: false },
  };
}

function cYAxis(gridIndex: number) {
  return {
    type: "value",
    gridIndex,
    min: 0,
    max: 8,
    interval: 2,
    axisLine: { show: true, onZero: false, lineStyle: { color: INK, width: 2 } },
    axisTick: { show: true, length: 4, lineStyle: { color: INK, width: 1.5 } },
    axisLabel: { fontSize: 22, color: INK, fontFamily: FONT, margin: 5 },
    splitLine: { show: false },
  };
}

const hollow = (size: number, bw: number) => ({
  type: "scatter",
  symbol: "circle",
  symbolSize: size,
  itemStyle: { color: "#ffffff", borderColor: INK, borderWidth: bw, opacity: 1 },
  emphasis: { disabled: true },
  silent: true,
});

function txt(x: number, y: number, text: string, size: number, opts: any = {}) {
  return {
    type: "text",
    x,
    y,
    rotation: opts.rotation || 0,
    silent: true,
    style: {
      text,
      fill: INK,
      fontSize: size,
      fontFamily: FONT,
      fontWeight: opts.bold ? "bold" : "normal",
      align: opts.align || "center",
      verticalAlign: "middle",
      textAlign: opts.align || "center",
      textVerticalAlign: "middle",
    },
  };
}

function dfTitle(x: number, y: number, value: string) {
  return {
    type: "text",
    x,
    y,
    silent: true,
    style: {
      text: `{d|Δ}{f|f}{r| = ${value}}`,
      align: "center",
      verticalAlign: "middle",
      textAlign: "center",
      textVerticalAlign: "middle",
      rich: {
        d: { fontSize: 22, fontWeight: "bold", fontFamily: FONT, fill: INK, color: INK },
        f: { fontSize: 22, fontWeight: "bold", fontStyle: "italic", fontFamily: FONT, fill: INK, color: INK },
        r: { fontSize: 22, fontWeight: "bold", fontFamily: FONT, fill: INK, color: INK },
      },
    },
  };
}

function buildOption() {
  const aPoints = [...aTail, ...aCore, ...aCoreFill, ...aUpperLeft, ...aMiddle, ...aUpper, ...aRight];
  const bPoints = [...bLeft, ...bNearZero, ...bMid, ...bRight, ...bBand];
  const odds = [oddTop, oddMid, oddBot];
  const oddsB = [oddTopB, oddMidB, oddBotB];
  const stds = [stdTop, stdMid, stdBot];
  const fits = [fitTop, fitMid, fitBot];

  const series: any[] = [
    {
      type: "line",
      xAxisIndex: 0,
      yAxisIndex: 0,
      data: aIdentity,
      symbol: "none",
      lineStyle: { color: INK, width: 1.2 },
      silent: true,
      z: 1,
    },
    { ...hollow(5.5, 1.4), xAxisIndex: 0, yAxisIndex: 0, data: aPoints, z: 2 },
    {
      type: "line",
      xAxisIndex: 1,
      yAxisIndex: 1,
      data: bZeroVertical,
      symbol: "none",
      lineStyle: { color: INK, width: 1.3, type: [13, 7] },
      silent: true,
      z: 1,
    },
    {
      type: "line",
      xAxisIndex: 1,
      yAxisIndex: 1,
      data: bZeroHorizontal,
      symbol: "none",
      lineStyle: { color: INK, width: 1.3, type: [13, 7] },
      silent: true,
      z: 1,
    },
    { ...hollow(5.5, 1.4), xAxisIndex: 1, yAxisIndex: 1, data: bPoints, z: 2 },
  ];

  for (let k = 0; k < 3; k++) {
    const oddData = [
      ...odds[k].map((v, i) => [2 * i + 1, v]),
      ...oddsB[k].map((v, i) => [4 * i + 2, v]),
    ];
    series.push({
      ...hollow(7.5, 1.1),
      name: "Oddball",
      xAxisIndex: 2 + k,
      yAxisIndex: 2 + k,
      data: oddData,
      z: 2,
    });
    series.push({
      type: "scatter",
      name: "Standard",
      symbol: "rect",
      symbolSize: STD_SIZE[k],
      itemStyle: { color: "#000000" },
      emphasis: { disabled: true },
      silent: true,
      xAxisIndex: 2 + k,
      yAxisIndex: 2 + k,
      data: stds[k].map((v, i) => [2 * i, v]),
      z: 3,
    });
    series.push({
      type: "line",
      xAxisIndex: 2 + k,
      yAxisIndex: 2 + k,
      data: fits[k],
      smooth: true,
      symbol: "none",
      lineStyle: { color: "#222222", width: 1 },
      silent: true,
      z: 4,
    });
  }

  const graphic: any[] = [
    txt(24, 23, "A", 26, { bold: true }),
    txt(24, 468, "B", 26, { bold: true }),
    txt(513, 23, "C", 26, { bold: true }),
    txt(140, 91, "N = 1174", 15, { bold: true, align: "left" }),
    txt(140, 537, "N = 1174", 15, { bold: true, align: "left" }),
    txt(24, 206, "Standard latency (ms)", 26, { rotation: Math.PI / 2 }),
    txt(278, 424, "Oddball latency (ms)", 26),
    txt(25, 655, "Latency difference", 26, { rotation: Math.PI / 2 }),
    txt(55, 655, "(oddball - standard)", 26, { rotation: Math.PI / 2 }),
    txt(276, 870, "NSSI index", 26),
    txt(488, 430, "Spikes per stimulus (population average)", 24, { rotation: Math.PI / 2 }),
    txt(702, 870, "Stimuli presentation order", 26),
    dfTitle(697, 43, cTitles[0]),
    dfTitle(697, 312, cTitles[1]),
    dfTitle(697, 585, cTitles[2]),
    {
      type: "circle",
      silent: true,
      shape: { cx: 578, cy: 347, r: 3.2 },
      style: { fill: "#ffffff", stroke: INK, lineWidth: 1 },
    },
    {
      type: "rect",
      silent: true,
      shape: { x: 575, y: 359, width: 6, height: 6 },
      style: { fill: INK },
    },
    txt(586, 347, "Oddball", 14, { align: "left" }),
    txt(586, 362, "Standard", 14, { align: "left" }),
  ];

  return {
    animation: false,
    backgroundColor: "#ffffff",
    textStyle: { fontFamily: FONT },
    grid: [
      { ...GRID_A, show: true, borderColor: INK, borderWidth: 1.3, backgroundColor: "transparent" },
      { ...GRID_B, show: true, borderColor: INK, borderWidth: 1.3, backgroundColor: "transparent" },
      ...GRID_C,
    ],
    xAxis: [
      boxAxis(0, 0, 120, 40, false),
      boxAxis(1, -1, 1, 0.5, false),
      cXAxis(2, false),
      cXAxis(3, false),
      cXAxis(4, true),
    ],
    yAxis: [
      boxAxis(0, 0, 120, 40, true),
      boxAxis(1, -80, 80, 40, true),
      cYAxis(2),
      cYAxis(3),
      cYAxis(4),
    ],
    series,
    graphic,
  };
}

export default function App() {
  const ref = useRef<HTMLDivElement>(null);
  useEffect(() => {
    if (!ref.current) return;
    const chart = echarts.init(ref.current, null, { renderer: "svg" });
    chart.setOption(buildOption() as any);
    return () => chart.dispose();
  }, []);
  return (
    <div
      ref={ref}
      style={{ position: "absolute", left: 0, top: 0, width: 859, height: 886, background: "#fff" }}
    />
  );
}
